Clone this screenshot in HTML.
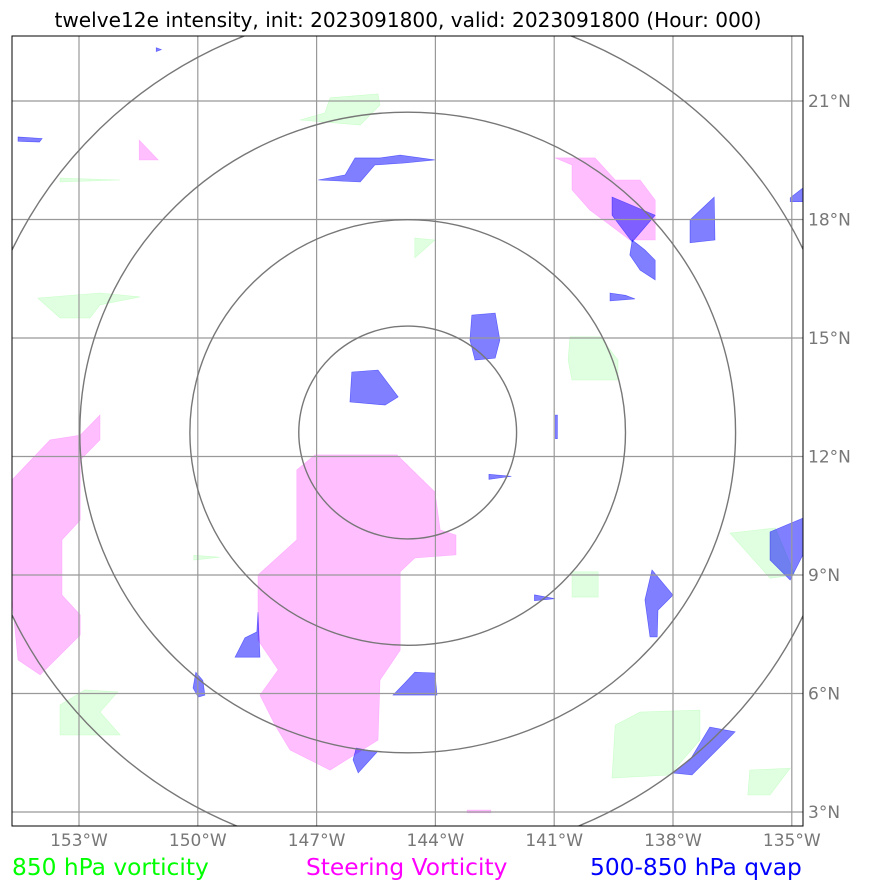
<!DOCTYPE html>
<html><head><meta charset="utf-8">
<style>
html,body{margin:0;padding:0;background:#fff;}
svg{display:block;font-family:"Liberation Sans","DejaVu Sans",sans-serif;}
</style></head>
<body>
<svg id="chart" width="869" height="891" viewBox="0 0 869 891" xmlns="http://www.w3.org/2000/svg">
<defs><clipPath id="clip"><rect x="12" y="36" width="791" height="790"/></clipPath></defs>
<text x="408" y="27" text-anchor="middle" font-size="20.1" fill="#000" font-family="DejaVu Sans, sans-serif">twelve12e intensity, init: 2023091800, valid: 2023091800 (Hour: 000)</text>
<g id="plot" clip-path="url(#clip)"></g>
<rect x="12" y="36" width="791" height="790" fill="none" stroke="#000" stroke-width="1"/>
<g id="ticks"></g>
<text x="12" y="875" font-size="23.3" fill="#00ff00" font-family="DejaVu Sans, sans-serif">850 hPa vorticity</text>
<text x="306" y="875" font-size="23.3" fill="#ff00ff" font-family="DejaVu Sans, sans-serif">Steering Vorticity</text>
<text x="590" y="875" font-size="23.3" fill="#0000ff" font-family="DejaVu Sans, sans-serif">500-850 hPa qvap</text>
</svg>
<script>
const lonTicks=[-153,-150,-147,-144,-141,-138,-135];
const lonLabels=["153°W","150°W","147°W","144°W","141°W","138°W","135°W"];
const latTicks=[3,6,9,12,15,18,21];
const latLabels=["3°N","6°N","9°N","12°N","15°N","18°N","21°N"];
const ringCenter=[-144.7,12.6];
const ringRadii=[2.75,5.5,8.28,11.05];
const steeringPolys=[
[[-147.04,12.04],[-144.97,12.04],[-144.01,11.1],[-143.88,10.14],[-143.48,10.01],[-143.48,9.51],[-144.52,9.43],[-144.89,9.08],[-144.89,7.1],[-145.4,6.34],[-145.45,4.82],[-146.66,4.06],[-147.67,4.57],[-148.05,5.2],[-148.43,5.96],[-147.97,6.6],[-148.48,7.35],[-148.48,9.0],[-147.5,9.89],[-147.5,11.66]],
[[-154.69,11.41],[-153.73,12.42],[-152.97,12.54],[-152.47,13.05],[-152.47,12.42],[-152.97,11.91],[-152.97,10.39],[-153.43,9.89],[-153.43,8.49],[-152.97,7.99],[-152.97,7.48],[-153.98,6.47],[-154.54,6.85],[-154.69,8.37]],
[[-140.98,19.56],[-139.97,19.56],[-139.46,19.0],[-138.83,19.0],[-138.45,18.49],[-138.45,17.48],[-139.09,17.48],[-139.59,17.86],[-140.10,18.24],[-140.55,18.75],[-140.55,19.38]],
[[-151.48,20.01],[-151.0,19.51],[-151.48,19.51]],
[[-143.2,3.05],[-142.6,3.05],[-142.6,2.98],[-143.2,2.98]]
];
const vortPolys=[
[[-146.66,21.08],[-145.45,21.18],[-145.4,20.9],[-145.9,20.39],[-147.42,20.52],[-146.79,20.7]],
[[-154.04,16.01],[-152.47,16.14],[-151.46,16.04],[-152.47,15.84],[-152.72,15.51],[-153.48,15.51]],
[[-153.48,19.05],[-151.96,19.0],[-153.48,18.95]],
[[-144.52,17.53],[-144.01,17.48],[-144.52,17.03]],
[[-140.6,15.03],[-139.84,15.03],[-139.39,14.44],[-139.39,13.94],[-140.55,13.94],[-140.65,14.44]],
[[-140.55,9.08],[-139.89,9.08],[-139.89,8.44],[-140.55,8.44]],
[[-136.56,10.06],[-135.42,10.19],[-134.92,9.0],[-135.55,8.92]],
[[-153.48,5.71],[-152.85,6.09],[-152.02,6.04],[-152.47,5.53],[-151.96,4.95],[-153.48,4.95]],
[[-139.46,5.2],[-138.83,5.53],[-137.32,5.58],[-137.32,4.82],[-138.08,3.94],[-139.54,3.86]],
[[-136.06,4.06],[-135.04,4.11],[-135.55,3.43],[-136.11,3.43]],
[[-150.1,9.5],[-149.45,9.45],[-150.1,9.38]]
];
const qvapPolys=[
[[-146.11,14.14],[-145.45,14.19],[-144.94,13.51],[-145.27,13.30],[-146.16,13.38]],
[[-143.08,15.58],[-142.49,15.63],[-142.37,14.95],[-142.49,14.49],[-143.0,14.44],[-143.13,14.95]],
[[-146.03,19.56],[-145.4,19.56],[-144.89,19.63],[-144.01,19.51],[-144.77,19.43],[-145.53,19.38],[-145.9,18.95],[-146.96,19.0],[-146.28,19.13]],
[[-139.54,18.57],[-138.45,18.11],[-139.03,17.43],[-139.54,18.11]],
[[-139.03,17.48],[-138.71,17.23],[-138.45,16.97],[-138.45,16.47],[-138.83,16.72],[-139.09,17.1]],
[[-137.57,17.99],[-136.96,18.57],[-136.94,17.48],[-137.57,17.41]],
[[-139.59,16.14],[-139.2,16.08],[-138.96,15.99],[-139.59,15.94]],
[[-135.04,18.55],[-134.72,18.8],[-134.72,18.45],[-135.04,18.45]],
[[-154.54,20.09],[-153.93,20.05],[-154.0,19.96],[-154.54,19.98]],
[[-140.97,13.05],[-140.92,13.05],[-140.92,12.45],[-140.97,12.45]],
[[-142.65,11.55],[-142.08,11.5],[-142.65,11.42]],
[[-135.55,10.09],[-134.72,10.44],[-134.72,9.51],[-135.04,8.87],[-135.55,9.38]],
[[-138.53,9.13],[-138.0,8.49],[-138.38,8.11],[-138.4,7.43],[-138.58,7.43],[-138.71,8.37]],
[[-141.5,8.5],[-140.98,8.4],[-141.5,8.35]],
[[-148.48,8.06],[-148.43,6.92],[-149.06,6.92],[-148.81,7.41],[-148.51,7.56]],
[[-150.05,6.54],[-149.87,6.33],[-149.82,5.96],[-149.99,5.91],[-150.12,6.14]],
[[-144.52,6.54],[-144.01,6.52],[-143.96,5.96],[-145.07,5.96],[-144.77,6.27]],
[[-146.0,4.62],[-145.47,4.52],[-145.95,3.99],[-146.08,4.32]],
[[-137.07,5.15],[-136.43,5.03],[-137.52,3.94],[-138.03,3.99],[-137.57,4.32]],
[[-151.05,22.35],[-150.92,22.3],[-151.05,22.25]]
];
const NS="http://www.w3.org/2000/svg";
function xScale(lon){return 79+(lon+153)*39.6;}
function yScale(lat){return 101+(21-lat)*39.5;}
const plot=document.getElementById('plot');
const ticks=document.getElementById('ticks');
function mk(tag,attrs,parent){const e=document.createElementNS(NS,tag);for(const k in attrs)e.setAttribute(k,attrs[k]);parent.appendChild(e);return e;}
function drawPolys(list,fill,op,stroke,name){
  list.forEach((p,i)=>{
    const el=mk('polygon',{points:p.map(q=>xScale(q[0]).toFixed(1)+','+yScale(q[1]).toFixed(1)).join(' '),fill:fill,'fill-opacity':op,stroke:stroke,'stroke-width':0.6,'stroke-opacity':0.5},plot);
    
    
  });
}
drawPolys(vortPolys,'#ccffcc',0.6,'#aaffaa','vorticity-850-area');
drawPolys(steeringPolys,'#ff80ff',0.5,'#ff80ff','steering-vorticity-area');
drawPolys(qvapPolys,'#0000ff',0.5,'#0000ff','qvap-area');
lonTicks.forEach((v,i)=>{
  const x=xScale(v);
  const l=mk('line',{x1:x,x2:x,y1:36,y2:826,stroke:'#999',"stroke-width":1.2},plot);
  
  
  const t=mk('text',{x:x,y:846,'text-anchor':'middle','font-size':17,fill:'#777','font-family':'DejaVu Sans, sans-serif'},ticks);
  t.textContent=lonLabels[i];
  
  
});
latTicks.forEach((v,i)=>{
  const y=yScale(v);
  const l=mk('line',{x1:12,x2:803,y1:y,y2:y,stroke:'#999',"stroke-width":1.2},plot);
  
  
  const t=mk('text',{x:808,y:y+6,'font-size':17,fill:'#777','font-family':'DejaVu Sans, sans-serif'},ticks);
  t.textContent=latLabels[i];
  
  
});
ringRadii.forEach(r=>{
  const c=mk('ellipse',{cx:xScale(ringCenter[0]),cy:yScale(ringCenter[1])-0.3,rx:r*39.6,ry:r*39.6*0.977,fill:'none',stroke:'#777','stroke-width':1.4},plot);
  
  
});
</script>
</body></html>
